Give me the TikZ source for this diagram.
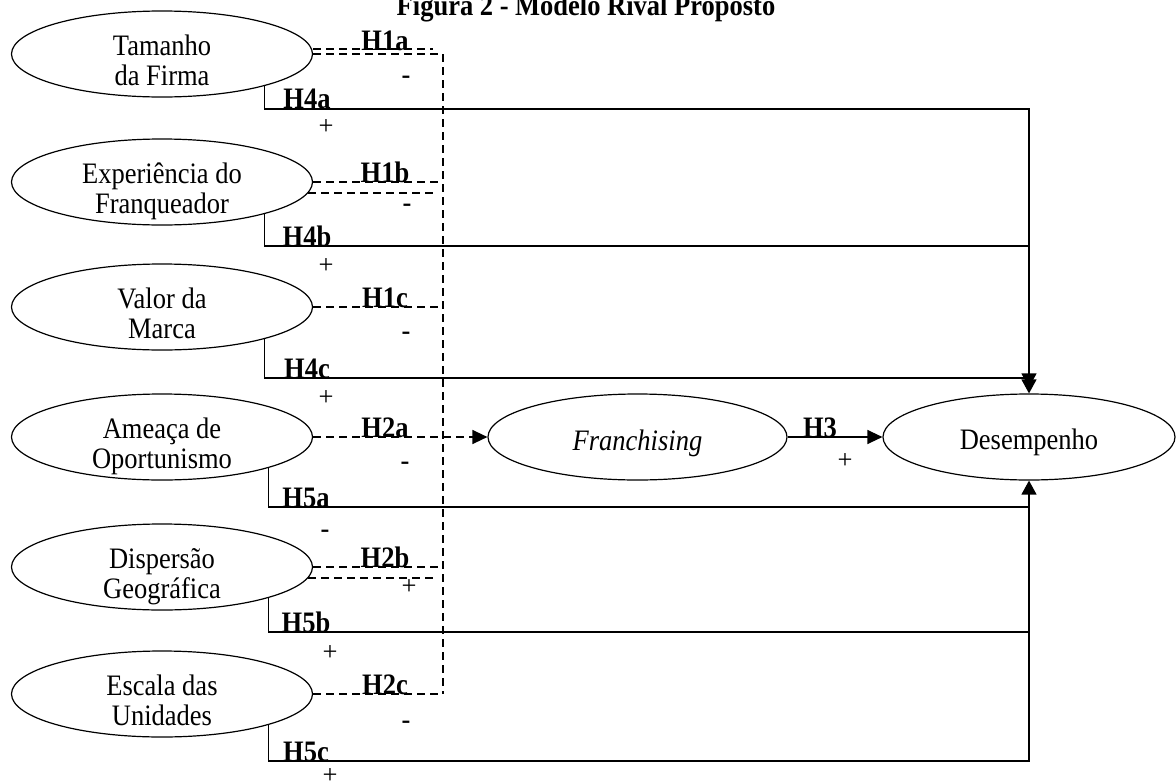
\documentclass[tikz,border=0pt]{standalone}
\usepackage{fontspec}
\usepackage{graphicx}
\setmainfont{Liberation Serif}
\usetikzlibrary{shapes.geometric,arrows.meta}
\newcommand{\bigf}{\fontsize{26.5}{30}\selectfont}
\newcommand{\vst}[1]{\scalebox{1}[1.12]{#1}}
\newcommand{\elltwo}[2]{\raisebox{-1pt}[0pt][0pt]{\begin{tabular}[t]{@{}c@{}}\vst{#1}\\\vst{#2}\end{tabular}}}
\newcommand{\ellone}[2]{\raisebox{-#1}[0pt][0pt]{\vst{#2}}}
\begin{document}
\begin{tikzpicture}[x=1pt,y=-1pt,
  ell/.style={draw=black,line width=1.2pt,ellipse,minimum width=301pt,minimum height=86pt,inner sep=0pt,font=\bigf},
  conn/.style={draw=black,line width=1.3pt},
  dsh/.style={draw=black,line width=1.4pt,dash pattern=on 8pt off 5pt},
  dshb/.style={draw=black,line width=2pt,dash pattern=on 8pt off 5pt},
  dshv/.style={draw=black,line width=1.6pt,dash pattern=on 8pt off 5pt},
  hl/.style={font=\bigf\bfseries,anchor=base,inner sep=0pt},
  sg/.style={font=\bigf,anchor=base,inner sep=0pt},
  sgb/.style={font=\bigf\bfseries,anchor=base,inner sep=0pt},
  tipA/.style={-{Triangle[length=15pt,width=14pt]}},
  tipD/.style={-{Triangle[length=14pt,width=15pt]}}
]
\useasboundingbox (0,0) rectangle (1176,782);

\node[hl] (title) at (586,15) {\vst{Figura 2 - Modelo Rival Proposto}};

% ellipses
\node[ell] (E1) at (162,54)  {\elltwo{Tamanho}{da Firma}};
\node[ell] (E2) at (162,182) {\elltwo{Experiência do}{Franqueador}};
\node[ell] (E3) at (162,307) {\elltwo{Valor da}{Marca}};
\node[ell] (E4) at (162,437) {\elltwo{Ameaça de}{Oportunismo}};
\node[ell] (E5) at (162,567) {\elltwo{Dispersão}{Geográfica}};
\node[ell] (E6) at (162,694) {\elltwo{Escala das}{Unidades}};
\node[ell,minimum width=299pt] (F) at (637.5,437) {\ellone{13pt}{\itshape Franchising}};
\node[ell,minimum width=292pt] (D) at (1029,437) {\ellone{12pt}{Desempenho}};

% dashed bus
\coordinate (b1) at (443,54);
\coordinate (b6) at (443,694);
\draw[dshv] (b1) -- (b6);
\draw[dshb] (E1.east) -- (b1);
\draw[dshb] ([yshift=5pt]E1.east) -- ++(120,0);
\draw[dshb] (E2.east) -- (E2.east -| b1);
\draw[dshb] ([shift={(-5pt,-11pt)}]E2.east) -- ++(125,0);
\draw[dsh] (E3.east) -- (E3.east -| b1);
\draw[dsh,tipA] (E4.east) -- (F.west);
\draw[dshb] (E5.east) -- (E5.east -| b1);
\draw[dshb] ([shift={(-5pt,-11pt)}]E5.east) -- ++(125,0);
\draw[dsh] (E6.east) -- (b6);

% solid connectors to Desempenho
\coordinate (j4a) at (1029,109);
\coordinate (j4b) at (1029,246);
\coordinate (j4c) at (1029,378);
\coordinate (j5a) at (1029,507);
\coordinate (j5b) at (1029,632);
\coordinate (j5c) at (1029,761);
\draw[conn,tipD] ([xshift=-4pt]E1.south east) |- (j4a) -- (D.north);
\draw[conn] ([xshift=-4pt]E2.south east) |- (j4b);
\draw[conn,tipD,shorten >=6pt] ([xshift=-4pt]E3.south east) |- (j4c) -- (D.north);
\draw[conn] (E4.south east) |- (j5a);
\draw[conn] (E5.south east) |- (j5b);
\draw[conn,tipD] (E6.south east) |- (j5c) -- (D.south);
\draw[conn,tipA] (F.east) -- (D.west);

% hypothesis labels
\node[hl] (h1a) at (385,50) {\vst{H1a}};
\node[hl] (h1b) at (385,182) {\vst{H1b}};
\node[hl] (h1c) at (385,307) {\vst{H1c}};
\node[hl] (h2a) at (385,437) {\vst{H2a}};
\node[hl] (h2b) at (385,567) {\vst{H2b}};
\node[hl] (h2c) at (385,694) {\vst{H2c}};
\node[hl] (h4a) at (307,108) {\vst{H4a}};
\node[hl] (h4b) at (307,246) {\vst{H4b}};
\node[hl] (h4c) at (307,378) {\vst{H4c}};
\node[hl] (h5a) at (306,507) {\vst{H5a}};
\node[hl] (h5b) at (306,632) {\vst{H5b}};
\node[hl] (h5c) at (306,761) {\vst{H5c}};
\node[hl] (h3)  at (820,437) {\vst{H3}};

% signs
\node[sgb] (s1) at (406,83.5) {-};
\node[sgb] (s2) at (407,211.5) {-};
\node[sgb] (s3) at (406,339.5) {-};
\node[sgb] (s4) at (405,469.5) {-};
\node[sg]  (s5) at (409,594.5) {+};
\node[sgb] (s6) at (406,728.5) {-};
\node[sg]  (p4a) at (326,134.5) {+};
\node[sg]  (p4b) at (326,273.5) {+};
\node[sg]  (p4c) at (326,405.5) {+};
\node[sgb] (m5a) at (325,537) {-};
\node[sg]  (p5b) at (330,660) {+};
\node[sg]  (p5c) at (330,783.5) {+};
\node[sg]  (p3) at (845,468.5) {+};
\end{tikzpicture}
\end{document}
